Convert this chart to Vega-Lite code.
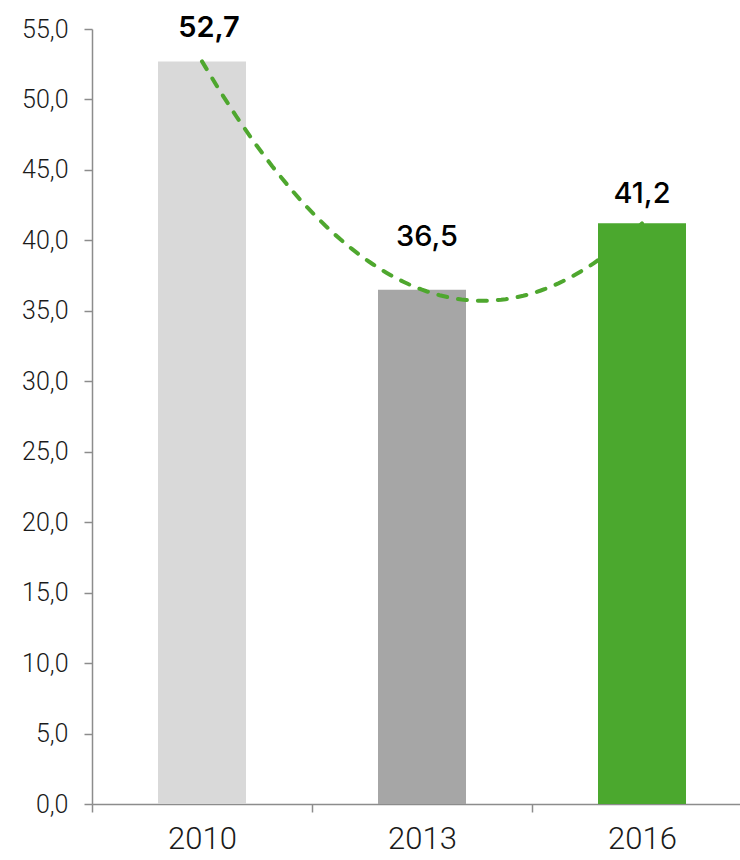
{
  "$schema": "https://vega.github.io/schema/vega-lite/v6.json",
  "width": 648,
  "height": 775,
  "autosize": {"type": "none"},
  "padding": {"left": 92, "top": 29, "right": 0, "bottom": 56},
  "background": "white",
  "data": {"values": [
    {"year": 2010, "value": 52.7},
    {"year": 2013, "value": 36.5},
    {"year": 2016, "value": 41.2}
  ]},
  "layer": [
    {
      "mark": {"type": "bar", "width": {"band": 0.4}},
      "encoding": {
        "x": {"field": "year", "type": "ordinal",
          "scale": {"domain": [2010, 2013, 2016], "range": [0, 660], "paddingInner": 0, "paddingOuter": 0},
          "axis": {"title": null, "labelAngle": 0, "tickBand": "extent", "tickSize": 8, "labelPadding": 12,
            "labelFont": "Roboto", "labelFontWeight": 300, "labelFontSize": 31, "labelColor": "#1a1a1a",
            "domainColor": "#8c8c8c", "tickColor": "#8c8c8c", "domainWidth": 1.5, "tickWidth": 1.5, "grid": false}},
        "y": {"field": "value", "type": "quantitative",
          "scale": {"domain": [0, 55], "nice": false},
          "axis": {"title": null, "values": [0, 5, 10, 15, 20, 25, 30, 35, 40, 45, 50, 55], "format": ".1f",
            "tickSize": 8, "labelPadding": 16, "labelFont": "Roboto", "labelFontWeight": 300, "labelFontSize": 25,
            "labelColor": "#1a1a1a", "domainColor": "#8c8c8c", "tickColor": "#8c8c8c", "domainWidth": 1.5, "tickWidth": 1.5, "grid": false}},
        "color": {"field": "year", "type": "nominal",
          "scale": {"domain": [2010, 2013, 2016], "range": ["#d9d9d9", "#a6a6a6", "#4ba82e"]}, "legend": null}
      }
    },
    {
      "transform": [{"regression": "value", "on": "year", "method": "poly", "order": 2, "extent": [2010, 2016]}],
      "mark": {"type": "line", "color": "#4ea72e", "strokeWidth": 4, "strokeDash": [9, 11], "strokeCap": "round"},
      "encoding": {
        "x": {"field": "year", "type": "quantitative", "scale": {"domain": [2008.5, 2017.5], "range": [0, 660], "nice": false, "zero": false}, "axis": null},
        "y": {"field": "value", "type": "quantitative"}
      }
    },
    {
      "transform": [{"filter": "datum.year == 2016"}],
      "mark": {"type": "bar", "width": {"band": 0.4}},
      "encoding": {
        "x": {"field": "year", "type": "ordinal",
          "scale": {"domain": [2010, 2013, 2016], "range": [0, 660], "paddingInner": 0, "paddingOuter": 0}, "axis": null},
        "y": {"field": "value", "type": "quantitative"},
        "color": {"field": "year", "type": "nominal", "legend": null}
      }
    },
    {
      "transform": [{"filter": "datum.year == 2010"}],
      "mark": {"type": "text", "font": "Inter", "fontWeight": 600, "fontSize": 29, "color": "#000000", "baseline": "alphabetic", "dx": 7, "dy": -24},
      "encoding": {
        "x": {"field": "year", "type": "ordinal",
          "scale": {"domain": [2010, 2013, 2016], "range": [0, 660], "paddingInner": 0, "paddingOuter": 0}, "axis": null},
        "y": {"field": "value", "type": "quantitative"},
        "text": {"field": "value", "type": "quantitative", "format": ".1f"}
      }
    },
    {
      "transform": [{"filter": "datum.year == 2013"}],
      "mark": {"type": "text", "font": "Inter", "fontWeight": 500, "fontSize": 29, "color": "#000000", "baseline": "alphabetic", "dx": 5, "dy": -44},
      "encoding": {
        "x": {"field": "year", "type": "ordinal",
          "scale": {"domain": [2010, 2013, 2016], "range": [0, 660], "paddingInner": 0, "paddingOuter": 0}, "axis": null},
        "y": {"field": "value", "type": "quantitative"},
        "text": {"field": "value", "type": "quantitative", "format": ".1f"}
      }
    },
    {
      "transform": [{"filter": "datum.year == 2016"}],
      "mark": {"type": "text", "font": "Inter", "fontWeight": 500, "fontSize": 29, "color": "#000000", "baseline": "alphabetic", "dy": -20},
      "encoding": {
        "x": {"field": "year", "type": "ordinal",
          "scale": {"domain": [2010, 2013, 2016], "range": [0, 660], "paddingInner": 0, "paddingOuter": 0}, "axis": null},
        "y": {"field": "value", "type": "quantitative"},
        "text": {"field": "value", "type": "quantitative", "format": ".1f"}
      }
    }
  ],
  "resolve": {"scale": {"x": "independent"}},
  "config": {
    "view": {"stroke": null},
    "locale": {"number": {"decimal": ",", "thousands": ".", "grouping": [3], "currency": ["", " €"]}}
  }
}
